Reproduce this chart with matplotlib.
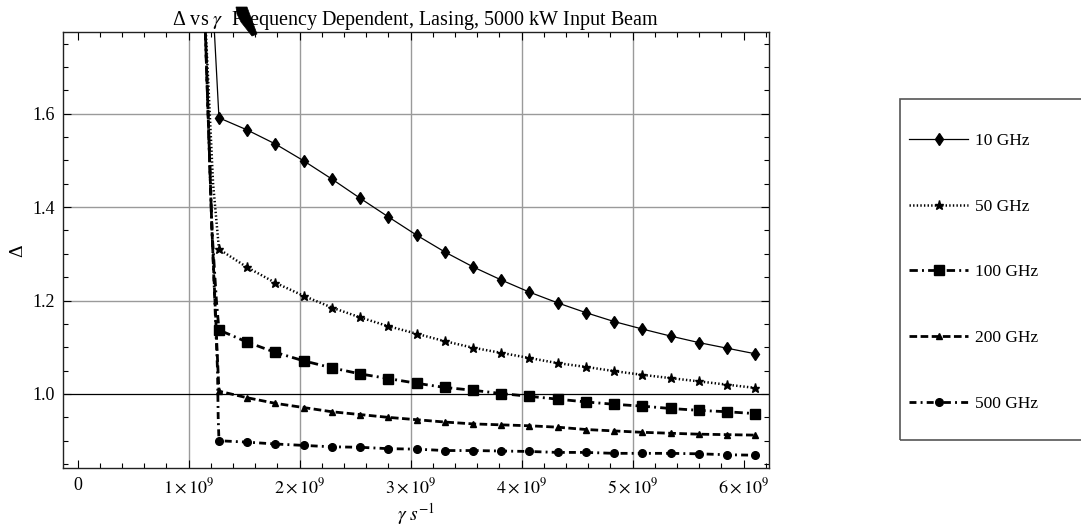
import matplotlib
matplotlib.use("Agg")
import matplotlib.pyplot as plt
from matplotlib.lines import Line2D
from matplotlib.patches import Rectangle, Polygon
from matplotlib.ticker import FixedLocator, FixedFormatter, MultipleLocator

plt.rcParams['font.family'] = ['Liberation Serif', 'DejaVu Serif']
plt.rcParams['mathtext.fontset'] = 'stix'
plt.rcParams['lines.scale_dashes'] = False

# ---- data -------------------------------------------------------------
gamma = [1.273e9, 1.527e9, 1.781e9, 2.036e9, 2.290e9, 2.544e9, 2.799e9,
         3.053e9, 3.307e9, 3.562e9, 3.816e9, 4.070e9, 4.324e9, 4.579e9,
         4.833e9, 5.087e9, 5.341e9, 5.596e9, 5.850e9, 6.105e9]

delta_10 = [1.591, 1.565, 1.535, 1.499, 1.460, 1.419, 1.379, 1.340, 1.304, 1.272,
            1.244, 1.218, 1.195, 1.174, 1.155, 1.139, 1.124, 1.110, 1.098, 1.086]
delta_50 = [1.310, 1.271, 1.238, 1.210, 1.185, 1.164, 1.145, 1.129, 1.113, 1.099,
            1.088, 1.077, 1.066, 1.058, 1.049, 1.041, 1.034, 1.027, 1.020, 1.013]
delta_100 = [1.137, 1.111, 1.089, 1.071, 1.056, 1.043, 1.033, 1.023, 1.014, 1.008,
             1.001, 0.995, 0.989, 0.983, 0.978, 0.974, 0.969, 0.965, 0.962, 0.958]
delta_200 = [1.006, 0.992, 0.980, 0.971, 0.962, 0.956, 0.950, 0.945, 0.940, 0.936,
             0.934, 0.932, 0.929, 0.924, 0.921, 0.918, 0.916, 0.914, 0.913, 0.912]
delta_500 = [0.900, 0.897, 0.893, 0.890, 0.887, 0.886, 0.883, 0.882, 0.879, 0.879,
             0.878, 0.877, 0.875, 0.875, 0.873, 0.873, 0.873, 0.872, 0.870, 0.869]

# steep branch near the pole (no markers)
pole_gamma_10 = [1.215e9]
pole_delta_10 = [1.85]
pole_gamma_50 = [1.14e9, 1.22e9]
pole_delta_50 = [1.85, 1.45]
pole_gamma_100 = [1.14e9, 1.21e9, 1.25e9]
pole_delta_100 = [1.85, 1.35, 1.20]
pole_gamma_200 = [1.14e9, 1.21e9, 1.255e9]
pole_delta_200 = [1.85, 1.35, 1.10]
pole_gamma_500 = [1.14e9, 1.21e9, 1.26e9, 1.266e9]
pole_delta_500 = [1.85, 1.35, 1.05, 0.95]

labels = ["10 GHz", "50 GHz", "100 GHz", "200 GHz", "500 GHz"]

x_ticks = [0, 1e9, 2e9, 3e9, 4e9, 5e9, 6e9]
x_tick_labels = ["0", r"$1\times10^{9}$", r"$2\times10^{9}$", r"$3\times10^{9}$",
                 r"$4\times10^{9}$", r"$5\times10^{9}$", r"$6\times10^{9}$"]
y_ticks = [1.0, 1.2, 1.4, 1.6]
y_tick_labels = ["1.0", "1.2", "1.4", "1.6"]
grid_x = [1e9, 2e9, 3e9, 4e9, 5e9]
grid_y = [1.2, 1.4, 1.6]

# ---- figure -----------------------------------------------------------
W, H = 1081, 529
fig = plt.figure(figsize=(W / 100, H / 100), dpi=100)
ax = fig.add_axes([63 / W, 1 - 468.3 / H, (769 - 63) / W, (468.3 - 32.3) / H])
ax.set_xlim(-0.132e9, 6.228e9)
ax.set_ylim(0.841, 1.774)

for gx in grid_x:
    ax.axvline(gx, color='#9a9a9a', lw=1.0, zorder=1)
for gy in grid_y:
    ax.axhline(gy, color='#9a9a9a', lw=1.0, zorder=1)
ax.axhline(1.0, color='black', lw=0.9, zorder=1.5)

styles = [
    dict(ls='-', lw=0.9, marker='d', ms=6.5),
    dict(ls=(0, (1.0, 1.6)), lw=1.8, marker='*', ms=6.5),
    dict(ls=(0, (6.0, 3.0, 1.4, 3.0)), lw=2.0, marker='s', ms=7),
    dict(ls=(0, (5.5, 2.5)), lw=2.0, marker='^', ms=4.5),
    dict(ls=(0, (5.0, 3.0, 1.4, 3.0)), lw=2.0, marker='o', ms=5.5),
]
series = [
    (pole_gamma_10, pole_delta_10, delta_10),
    (pole_gamma_50, pole_delta_50, delta_50),
    (pole_gamma_100, pole_delta_100, delta_100),
    (pole_gamma_200, pole_delta_200, delta_200),
    (pole_gamma_500, pole_delta_500, delta_500),
]

handles = []
for (pg, pd, d), st in zip(series, styles):
    ax.plot(pg + gamma, pd + d, color='black', ls=st['ls'], lw=st['lw'],
            solid_capstyle='butt', dash_capstyle='butt', zorder=3)
    ax.plot(gamma, d, color='black', ls='none', marker=st['marker'],
            ms=st['ms'], zorder=4)
    handles.append(Line2D([], [], color='black', ls=st['ls'], lw=st['lw'],
                          marker=st['marker'], ms=st['ms'],
                          dash_capstyle='butt'))

# ticks
ax.xaxis.set_major_locator(FixedLocator(x_ticks))
ax.xaxis.set_major_formatter(FixedFormatter(x_tick_labels))
ax.xaxis.set_minor_locator(MultipleLocator(0.2e9))
ax.yaxis.set_major_locator(FixedLocator(y_ticks))
ax.yaxis.set_major_formatter(FixedFormatter(y_tick_labels))
ax.yaxis.set_minor_locator(MultipleLocator(0.05))
ax.tick_params(which='both', direction='in', top=True, right=True,
               labelsize=13, color='black', width=0.8)
ax.tick_params(which='major', length=5.5, pad=6)
ax.tick_params(which='minor', length=3.5)
for sp in ax.spines.values():
    sp.set_linewidth(1.0)
    sp.set_color('#222222')

ax.set_xlabel(r"$\gamma\ s^{-1}$", fontsize=14, va='center')
ax.xaxis.set_label_coords(0.5, -(514 - 468.3) / 436)
ax.set_ylabel("Δ", fontsize=14, va='center')
ax.yaxis.set_label_coords(-(63 - 18) / 706, 0.5)

fig.text(415 / W, 1 - 20 / H,
         r"Δ vs $\gamma$  Frequency Dependent, Lasing, 5000 kW Input Beam",
         ha='center', va='center', fontsize=14.5)
blob = Polygon([(236 / W, 1 - 7 / H), (247 / W, 1 - 7 / H), (257 / W, 1 - 34 / H),
                (252 / W, 1 - 36 / H), (241 / W, 1 - 22 / H), (237 / W, 1 - 14 / H)],
               closed=True, transform=fig.transFigure, facecolor='black',
               edgecolor='black', lw=0.5)
fig.patches.append(blob)

# legend box
fig.patches.append(Rectangle((900 / W, 1 - 440 / H), 0.2, (440 - 99) / H,
                             transform=fig.transFigure, fill=False,
                             edgecolor='#555555', lw=1.2))
fig.legend(handles, labels, loc='upper left',
           bbox_to_anchor=(909 / W, 1 - 133 / H), frameon=False, fontsize=12.5,
           handlelength=3.4, handletextpad=0.4, labelspacing=2.85,
           borderpad=0, borderaxespad=0)

fig.savefig("out.png", dpi=100)
